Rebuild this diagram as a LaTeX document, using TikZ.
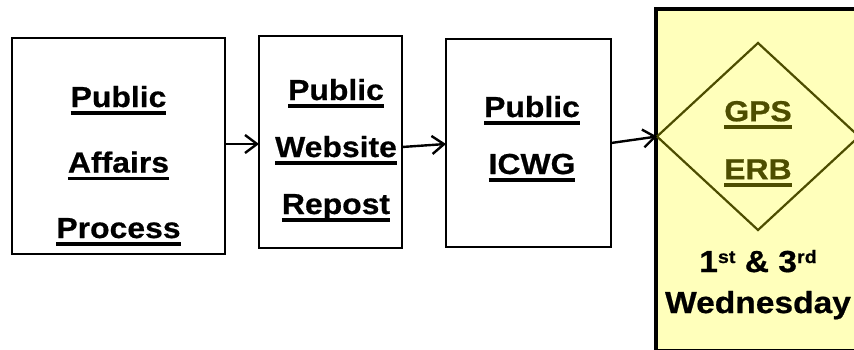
\documentclass[tikz,border=0pt]{standalone}
\usepackage{fontspec}
\setmainfont{Liberation Sans}[FakeStretch=1.1, BoldFeatures={FakeStretch=1.1, FakeBold=0.6}]
\usetikzlibrary{positioning}
\usetikzlibrary{shapes.geometric}
\usetikzlibrary{arrows.meta}
\definecolor{olivedark}{RGB}{77,77,0}
\definecolor{paleyellow}{RGB}{255,255,187}
\newcommand{\uword}[1]{\setbox0\hbox{#1}\rlap{\rule[-7.5pt]{\wd0}{3.4pt}}\box0}
\newcommand{\ordsup}[1]{\raisebox{9pt}{\fontsize{18}{18}\selectfont #1}}
\begin{document}
\begin{tikzpicture}
[
x=1pt, y=-1pt,
>={Straight Barb[length=12pt,width=18pt]},
box-a/.style={rectangle,draw,line width=2pt,inner sep=0pt,outer sep=0pt},
text-a/.style={black,align=center,inner sep=0pt,outer sep=0pt,font=\fontsize{29}{57}\selectfont\bfseries},
]
\clip[use as bounding box] (0,0) rectangle (854,350);
\node (b1) [box-a, minimum width=213pt, minimum height=216pt] at (118.5,146) {};
\node (b2) [box-a, minimum width=143pt, minimum height=212pt, right = 34pt of b1, yshift=4pt]  {};
\node (b3) [box-a, minimum width=165pt, minimum height=208pt, right = 44pt of b2, yshift=-1pt] {};
\node (b4) [box-a, fill=paleyellow, line width=4.5pt, minimum width=208pt, minimum height=342pt, right = 45pt of b3, yshift=-37pt] {};
\node (d)  [diamond, draw=olivedark, line width=2.2pt, inner sep=0pt, outer sep=0pt, minimum width=202pt, minimum height=187pt, below = 34pt of b4.north, xshift=-2pt] {};
\node (t1) [text-a, font=\fontsize{29}{65.5}\selectfont\bfseries, below = 48pt of b1.north] {\uword{Public}\\\uword{Affairs}\\\uword{Process}};
\node (t2) [text-a, below = 43pt of b2.north, xshift=5.5pt] {\uword{Public}\\\uword{Website}\\\uword{Repost}};
\node (t3) [text-a, below = 57pt of b3.north, xshift=3.5pt] {\uword{Public}\\\uword{ICWG}};
\node (t4) [text-a, text=olivedark, font=\fontsize{29}{58}\selectfont\bfseries, below = 58pt of d.north] {\uword{GPS}\\\uword{ERB}};
\node (t5) [text-a, font=\fontsize{30.5}{41}\selectfont\bfseries, below = 20pt of d.south] {1\ordsup{st} \& 3\ordsup{rd}\\Wednesday};
\draw [->, line width=2.4pt] ([yshift=2pt]b1.east) -- ([yshift=2pt]b1.east -| b2.west);
\draw [->, line width=2.4pt] ([yshift=-5pt]b2.east) -- ([yshift=-1pt]b3.west);
\draw [->, line width=2.4pt] (b3.east) -- (d.west);
\end{tikzpicture}
\end{document}
